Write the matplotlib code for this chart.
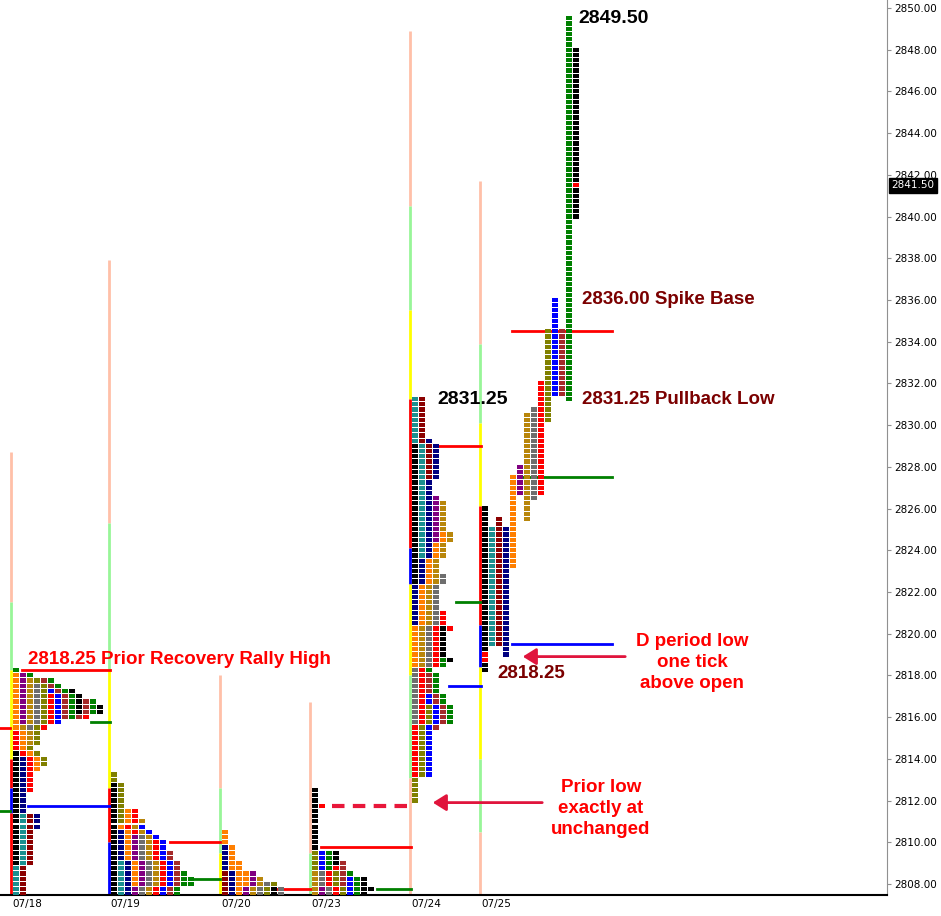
import matplotlib
matplotlib.use("Agg")
import matplotlib.pyplot as plt
from matplotlib.patches import Rectangle, FancyArrowPatch

plt.rcParams['font.family'] = ['Liberation Sans', 'DejaVu Sans']

TICK = 0.25
COLORS = {'k': '#000000', 't': '#1b8f8f', 'm': '#8b0000', 'n': '#000080', 'p': '#800080',
          'o': '#ff7f00', 'g': '#b8860b', 'y': '#6e6e6e', 'r': '#ff0000', 'l': '#808000',
          'b': '#0000ff', 'w': '#a52a2a', 'e': '#008000'}

days = ['07/18', '07/19', '07/20', '07/23', '07/24', '07/25']

# TPO periods per day: (color code, low, high) in period order
periods = {
    '07/18': [('k', 2809.0, 2814.25), ('t', 2807.5, 2811.25), ('m', 2807.5, 2811.25),
              ('n', 2810.75, 2814.0), ('r', 2812.5, 2815.25), ('o', 2813.5, 2818.0),
              ('p', 2815.75, 2818.0), ('g', 2814.75, 2817.75), ('y', 2815.5, 2817.5),
              ('l', 2813.75, 2817.75), ('r', 2815.5, 2817.0), ('b', 2815.75, 2817.25),
              ('w', 2816.0, 2817.75), ('e', 2816.0, 2818.25), ('k', 2816.25, 2817.25),
              ('w', 2816.0, 2816.75), ('e', 2816.25, 2816.75), ('k', 2816.25, 2816.5),
              ('r', 2816.0, 2816.0)],
    '07/19': [('k', 2807.5, 2812.75), ('l', 2811.0, 2813.25), ('t', 2807.5, 2809.0),
              ('n', 2807.5, 2810.5), ('o', 2808.0, 2811.5), ('r', 2810.5, 2811.5),
              ('p', 2807.5, 2810.25), ('y', 2807.5, 2810.25), ('g', 2807.5, 2811.0),
              ('r', 2807.5, 2810.0), ('b', 2807.5, 2810.75), ('w', 2807.5, 2809.5),
              ('e', 2807.5, 2808.5), ('e', 2808.0, 2808.25)],
    '07/20': [('m', 2807.5, 2808.5), ('n', 2807.5, 2809.75), ('o', 2807.5, 2810.5),
              ('o', 2808.0, 2809.0), ('p', 2807.5, 2808.5), ('g', 2807.5, 2808.25),
              ('y', 2807.5, 2808.0), ('l', 2807.5, 2808.0), ('k', 2807.5, 2807.75),
              ('y', 2807.5, 2807.75)],
    '07/23': [('k', 2809.75, 2812.5), ('r', 2811.75, 2811.75), ('l', 2808.75, 2809.5),
              ('g', 2807.5, 2808.5), ('p', 2807.5, 2807.75), ('b', 2808.75, 2809.5),
              ('y', 2807.5, 2808.5), ('e', 2808.75, 2809.5), ('r', 2807.5, 2808.75),
              ('k', 2809.0, 2809.5), ('l', 2807.5, 2808.5), ('w', 2808.0, 2809.0),
              ('b', 2807.5, 2808.25), ('e', 2807.5, 2808.5), ('k', 2807.5, 2808.25),
              ('k', 2807.75, 2807.75)],
    '07/24': [('k', 2822.5, 2829.0), ('t', 2823.75, 2831.25), ('m', 2827.5, 2831.25),
              ('n', 2820.5, 2829.25), ('p', 2824.5, 2826.5), ('o', 2818.5, 2824.75),
              ('g', 2818.5, 2826.25), ('y', 2815.75, 2822.75), ('r', 2813.25, 2821.0),
              ('l', 2812.0, 2816.5), ('b', 2813.25, 2817.0), ('w', 2815.5, 2818.0),
              ('e', 2815.75, 2818.75), ('k', 2818.75, 2820.25), ('r', 2820.25, 2820.25)],
    '07/25': [('k', 2819.25, 2826.0), ('t', 2819.5, 2825.0), ('m', 2819.5, 2825.5),
              ('n', 2819.0, 2825.0), ('o', 2823.25, 2827.5), ('p', 2826.75, 2828.0),
              ('g', 2825.5, 2830.5), ('y', 2826.5, 2830.75), ('r', 2826.75, 2832.0),
              ('l', 2830.25, 2834.5), ('b', 2831.5, 2836.0), ('w', 2831.5, 2834.5),
              ('e', 2831.25, 2849.5), ('k', 2840.0, 2848.0)],
}
# extra single TPOs: (color, low, high, column)
extra = {'07/25': [('r', 2818.75, 2819.0, 0), ('k', 2818.25, 2818.5, 0), ('r', 2841.5, 2841.5, 13)]}
collapse = {'07/18': True, '07/19': True, '07/20': True, '07/23': True, '07/24': True, '07/25': False}

# session range bars: (color, low, high)
range_bars = {
    '07/18': [('#ffc0a8', 2821.5, 2828.7), ('#98f598', 2818.25, 2821.5), ('#ffff00', 2814.0, 2818.25),
              ('#ff0000', 2812.6, 2814.0), ('#0000ff', 2811.4, 2812.6), ('#ff0000', 2807.4, 2811.4)],
    '07/19': [('#ffc0a8', 2825.3, 2837.9), ('#98f598', 2818.3, 2825.3), ('#ffff00', 2812.6, 2818.3),
              ('#ff0000', 2810.0, 2812.6), ('#0000ff', 2807.4, 2810.0)],
    '07/20': [('#ffc0a8', 2812.6, 2818.0), ('#98f598', 2809.5, 2812.6), ('#ffff00', 2807.4, 2809.5)],
    '07/23': [('#ffc0a8', 2809.5, 2816.7), ('#98f598', 2807.4, 2809.5)],
    '07/24': [('#ffc0a8', 2840.5, 2848.9), ('#98f598', 2835.5, 2840.5), ('#ffff00', 2831.25, 2835.5),
              ('#ff0000', 2824.1, 2831.25), ('#0000ff', 2822.4, 2824.1), ('#ffff00', 2818.0, 2822.4),
              ('#98f598', 2813.1, 2818.0), ('#ffc0a8', 2807.4, 2813.1)],
    '07/25': [('#ffc0a8', 2833.9, 2841.7), ('#98f598', 2830.1, 2833.9), ('#ffff00', 2826.1, 2830.1),
              ('#ff0000', 2820.4, 2826.1), ('#0000ff', 2818.4, 2820.4), ('#ffff00', 2814.0, 2818.4),
              ('#98f598', 2810.5, 2814.0), ('#ffc0a8', 2807.4, 2810.5)],
}

# reference levels: (color, price, x_from, x_to, style)
levels = [('#ff0000', 2815.5, 0, 10, '-'), ('#008000', 2811.5, 0, 10, '-'),
          ('#ff0000', 2818.25, 22, 110, '-'), ('#008000', 2815.75, 91, 110, '-'),
          ('#0000ff', 2811.75, 28, 110, '-'),
          ('#ff0000', 2810.0, 170, 220, '-'), ('#008000', 2808.25, 190, 220, '-'),
          ('#ff0000', 2807.75, 273, 311, '-'),
          ('#ff0000', 2809.75, 321, 411, '-'), ('#008000', 2807.75, 377, 411, '-'),
          ('#e8173a', 2811.75, 332, 411, '--'),
          ('#ff0000', 2829.0, 435, 481, '-'), ('#008000', 2821.5, 456, 481, '-'),
          ('#0000ff', 2817.5, 449, 481, '-'),
          ('#ff0000', 2834.5, 512, 612, '-'), ('#008000', 2827.5, 519, 612, '-'),
          ('#0000ff', 2819.5, 512, 612, '-')]

y_ticks = list(range(2808, 2851, 2))
last_price = 2841.50

# layout (pixels)
day_x = {'07/18': 12, '07/19': 110, '07/20': 221, '07/23': 311, '07/24': 411, '07/25': 481}
COLW = 7.0

fig = plt.figure(figsize=(9.41, 9.16), dpi=100)
ax = fig.add_axes([0, 21/916, 887/941, 1 - 21/916])
ax.set_xlim(0, 887)
ax.set_ylim(2807.47, 2850.38)

def prices(lo, hi):
    n = int(round((hi - lo) / TICK))
    return [lo + i * TICK for i in range(n + 1)]

for d in days:
    x0 = day_x[d]
    for col, lo, hi in range_bars[d]:
        ax.plot([x0 - 1.5, x0 - 1.5], [lo, hi], color=col, lw=2.0, solid_capstyle='butt', zorder=1)
    used = {}
    for i, (c, lo, hi) in enumerate(periods[d]):
        for p in prices(lo, hi):
            key = round(p, 2)
            if collapse[d]:
                col = used.get(key, 0)
                used[key] = col + 1
            else:
                col = i
            ax.add_patch(Rectangle((x0 + col * COLW + 1, p - 0.1), 5.6, 0.2,
                                   color=COLORS[c], lw=0, zorder=3))
    for c, lo, hi, col in extra.get(d, []):
        for p in prices(lo, hi):
            ax.add_patch(Rectangle((x0 + col * COLW + 1, p - 0.1), 5.6, 0.2,
                                   color=COLORS[c], lw=0, zorder=4))

for col, p, xa, xb, ls in levels:
    if ls == '--':
        ax.plot([xa, xb], [p, p], color=col, lw=3, ls='--', dashes=(3, 2), zorder=2)
    else:
        ax.plot([xa, xb], [p, p], color=col, lw=2, zorder=2)

# axis styling
for s in ['top', 'left']:
    ax.spines[s].set_visible(False)
ax.spines['right'].set_color('#909090')
ax.spines['bottom'].set_color('black')
ax.spines['bottom'].set_linewidth(1.5)
ax.yaxis.tick_right()
ax.set_yticks(y_ticks)
ax.set_yticklabels([f"{v:.2f}" for v in y_ticks], fontsize=7.5, family='DejaVu Sans')
ax.tick_params(axis='y', length=3, color='#909090', pad=2)
ax.set_xticks([day_x[d] + 15 for d in days])
ax.set_xticklabels(days, fontsize=7.5, family='DejaVu Sans')
ax.tick_params(axis='x', length=0, pad=3)

# last price box
ax.annotate(f"{last_price:.2f}", xy=(1.0, last_price), xycoords=('axes fraction', 'data'),
            xytext=(3, 0), textcoords='offset points', va='center', ha='left', fontsize=7.5,
            family='DejaVu Sans', color='white',
            bbox=dict(boxstyle='square,pad=0.25', fc='black', ec='black'), annotation_clip=False)

bold = dict(fontweight='bold', fontsize=13.5)
ax.text(578, 2849.5, '2849.50', color='black', va='center', ha='left', fontsize=14, fontweight='bold')
ax.text(582, 2836.0, '2836.00 Spike Base', color='#7b0000', va='center', **bold)
ax.text(582, 2831.25, '2831.25 Pullback Low', color='#7b0000', va='center', **bold)
ax.text(437, 2831.25, '2831.25', color='black', va='center', fontsize=14, fontweight='bold')
ax.text(28, 2818.75, '2818.25 Prior Recovery Rally High', color='#ff0000', va='center', **bold)
ax.text(497, 2818.1, '2818.25', color='#7b0000', va='center', **bold)
ax.text(692, 2818.6, 'D period low\none tick\nabove open', color='#ff0000', ha='center',
        va='center', linespacing=1.3, **bold)
ax.text(601, 2811.6, 'Prior low\nexactly at\nunchanged', color='#ff0000', ha='center',
        va='center', linespacing=1.3, **bold)
ax.add_patch(FancyArrowPatch((628, 2818.9), (520, 2818.9), arrowstyle='-|>,head_length=8,head_width=5',
                             color='#e0143c', lw=2, zorder=5))
ax.add_patch(FancyArrowPatch((545, 2811.9), (430, 2811.9), arrowstyle='-|>,head_length=8,head_width=5',
                             color='#e0143c', lw=2, zorder=5))

fig.savefig('out.png', dpi=100)
